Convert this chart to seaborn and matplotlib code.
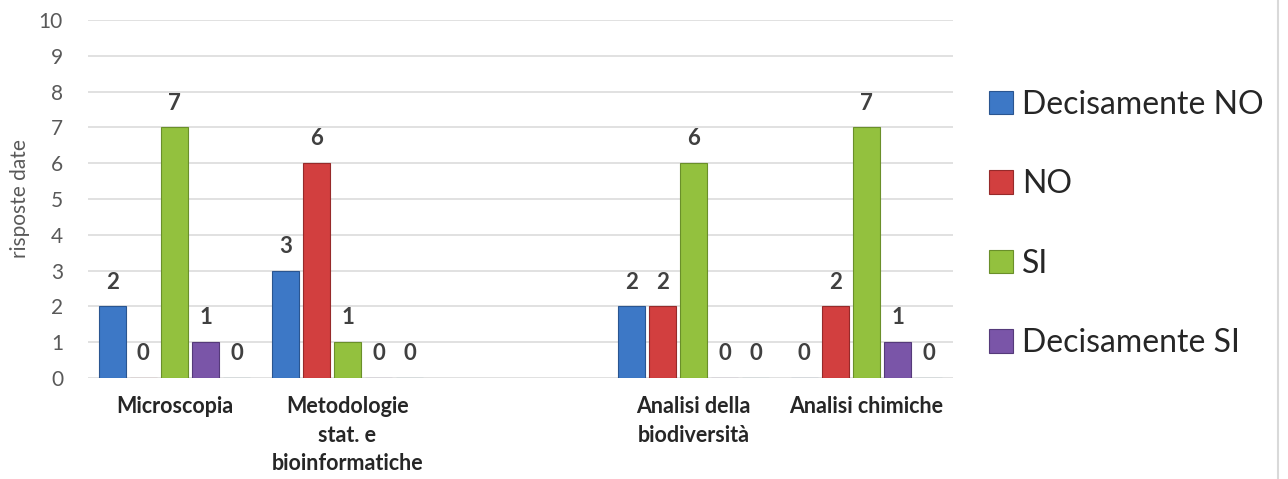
import matplotlib
matplotlib.use("Agg")
import matplotlib.pyplot as plt
from matplotlib.patches import Patch
from matplotlib.lines import Line2D
import seaborn as sns
import pandas as pd
import numpy as np

# ---- data ----
categories = ["Microscopia", "Metodologie stat. e bioinformatiche", "_vuoto_",
              "Analisi della biodiversità", "Analisi chimiche"]
tick_labels = ["Microscopia", "Metodologie\nstat. e\nbioinformatiche", "",
               "Analisi della\nbiodiversità", "Analisi chimiche"]
series = ["Decisamente NO", "NO", "SI", "Decisamente SI", "Altro"]
decisamente_no = [2, 3, np.nan, 2, 0]
no_vals = [0, 6, np.nan, 2, 2]
si_vals = [7, 1, np.nan, 6, 7]
decisamente_si = [1, 0, np.nan, 0, 1]
altro = [0, 0, np.nan, 0, 0]
legend_series = ["Decisamente NO", "NO", "SI", "Decisamente SI"]

colors = {"Decisamente NO": "#3D78C6", "NO": "#D23F3F", "SI": "#93C13E",
          "Decisamente SI": "#7A55A8", "Altro": "#4BACC6"}
edges = {"Decisamente NO": "#2A5590", "NO": "#962A2A", "SI": "#6A8F2A",
         "Decisamente SI": "#553A7A", "Altro": "#2F7F94"}

rows = []
for s, vals in zip(series, [decisamente_no, no_vals, si_vals, decisamente_si, altro]):
    for c, v in zip(categories, vals):
        rows.append({"categoria": c, "serie": s, "valore": v})
df = pd.DataFrame(rows).dropna()

sns.set_theme(style="white")
plt.rcParams["font.family"] = ["Lato", "DejaVu Sans"]

fig = plt.figure(figsize=(12.88, 4.79), dpi=100)
ax = fig.add_axes([88 / 1288, 1 - 378 / 479, (953 - 88) / 1288, (378 - 20) / 479])

sns.barplot(data=df, x="categoria", y="valore", hue="serie", order=categories,
            hue_order=series, palette=colors, width=0.9, gap=0.13,
            ax=ax, legend=False, errorbar=None, saturation=1)

for cont, s in zip(ax.containers, series):
    for bar in cont:
        bar.set_edgecolor(edges[s])
        bar.set_linewidth(0.8)
    ax.bar_label(cont, fmt="%d", padding=10, fontsize=16, fontweight="bold",
                 color="#404040")

ax.set_ylim(0, 10)
ax.set_yticks(range(0, 11))
ax.set_xlim(-0.5, len(categories) - 0.5)
ax.yaxis.grid(True, color="#D9D9D9", linewidth=1.1)
ax.set_axisbelow(True)
for sp in ax.spines.values():
    sp.set_visible(False)
ax.tick_params(axis="y", length=0, pad=18, labelsize=15, labelcolor="#595959")
ax.tick_params(axis="x", length=0, pad=13)
ax.set_xticks(range(len(categories)))
ax.set_xticklabels(tick_labels, fontsize=15.5, fontweight="bold", color="#262626",
                   linespacing=1.45, va="top")
ax.set_xlabel("")
ax.set_ylabel("risposte date", fontsize=15, color="#595959")
ax.yaxis.set_label_coords(-0.067, 0.5)

handles = [Patch(facecolor=colors[s], edgecolor=edges[s], linewidth=0.8) for s in legend_series]
fig.legend(handles, legend_series, loc="center left",
           bbox_to_anchor=(976 / 1288, 1 - 224 / 479), frameon=False,
           fontsize=23, handlelength=0.75, handleheight=0.75, handletextpad=0.3,
           labelspacing=1.55, borderaxespad=0)

fig.add_artist(Line2D([1278 / 1288, 1278 / 1288], [0, 1], color="#D9D9D9",
                      linewidth=1.5, transform=fig.transFigure))

fig.savefig("out.png", dpi=100)
